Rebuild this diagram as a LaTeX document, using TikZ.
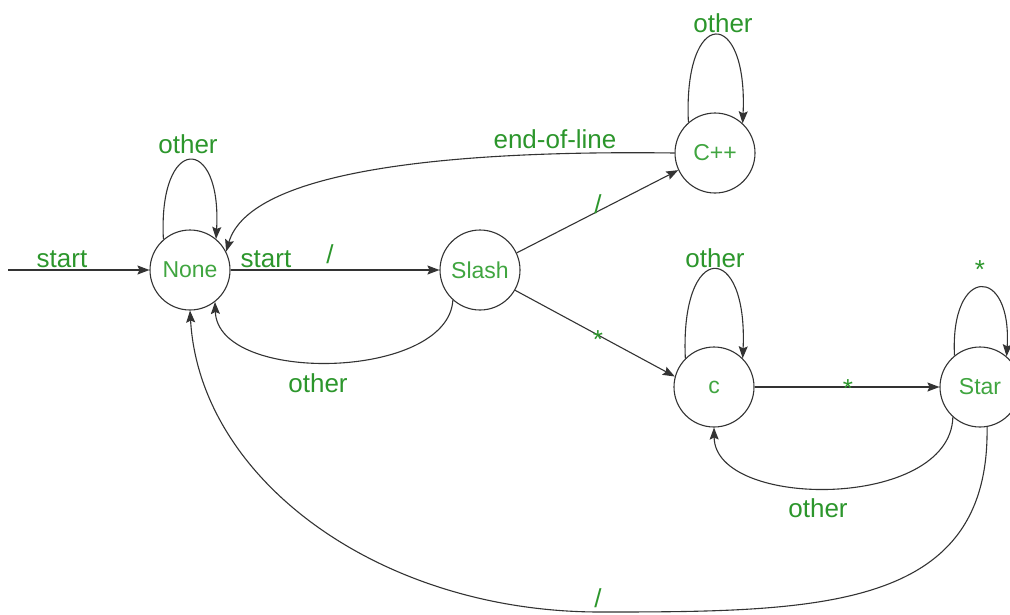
\documentclass[tikz,border=0pt]{standalone}
\usepackage{fontspec}
\setmainfont{Liberation Sans}
\usetikzlibrary{arrows.meta}
\definecolor{lblgreen}{RGB}{44,150,44}
\definecolor{stgreen}{RGB}{64,165,64}
\tikzset{
  state/.style={circle, draw=black!80, line width=1.1pt, minimum size=80pt, inner sep=0pt,
                text=stgreen, font=\fontsize{23}{23}\selectfont},
  edge/.style={draw=black!80, line width=1.1pt, -{Stealth[length=12pt,width=9pt,inset=2pt]}},
  lbl/.style={anchor=base, inner sep=0pt, text=lblgreen, font=\fontsize{26}{26}\selectfont}
}
\begin{document}
\begin{tikzpicture}[x=1pt, y=-1pt]
\useasboundingbox (0,0) rectangle (1010,614);
\clip (0,0) rectangle (1010,614);

% states
\node[state] (None)  at (190,270) {None};
\node[state] (Slash) at (480,270) {Slash};
\node[state] (Cpp)   at (715,153) {C++};
\node[state] (Cmt)   at (714,387) {c};
\node[state] (Star)  at (980,387) {Star};
\coordinate (in) at (8,270);
\coordinate (bot) at (600,612);

% entry arrow
\draw[edge] (in) -- (None.west);
\node[lbl] at (62,267) {start};

% None
\draw[edge] (None.131) .. controls (158,134) and (222,134) .. (None.50);
\node[lbl] at (188,153) {other};
\draw[edge] (None.east) -- (Slash.west);
\node[lbl] at (266,267) {start};
\node[lbl] at (330,263) {/};

% Slash
\draw[edge] (Slash.228) .. controls (448,380) and (218,385) .. (None.308);
\node[lbl] at (318,392) {other};
\draw[edge] (Slash.25) -- (Cpp.205);
\node[lbl] at (598,213) {/};
\draw[edge] (Slash.-30) -- (Cmt.165);
\node[lbl] at (598,348) {*};

% C++
\draw[edge] (Cpp.131) .. controls (683,6) and (748,6) .. (Cpp.47);
\node[lbl] at (723,32) {other};
\draw[edge] (Cpp.west) .. controls (450,150) and (250,170) .. (None.27);
\node[lbl] at (555,148) {end-of-line};

% c
\draw[edge] (Cmt.135) .. controls (680,240) and (748,240) .. (Cmt.45);
\node[lbl] at (715,267) {other};
\draw[edge] (Cmt.east) -- (Star.west);
\node[lbl] at (848,397) {*};

% Star
\draw[edge] (Star.129) .. controls (950,265) and (1012,265) .. (Star.49);
\node[lbl] at (980,278) {*};
\draw[edge] (Star.228) .. controls (950,510) and (715,510) .. (Cmt.south);
\node[lbl] at (818,517) {other};
\draw[edge] (Star.280) .. controls (990,610) and (820,612) .. (bot)
                       .. controls (380,612) and (200,480) .. (None.south);
\node[lbl] at (598,607) {/};
\end{tikzpicture}
\end{document}
